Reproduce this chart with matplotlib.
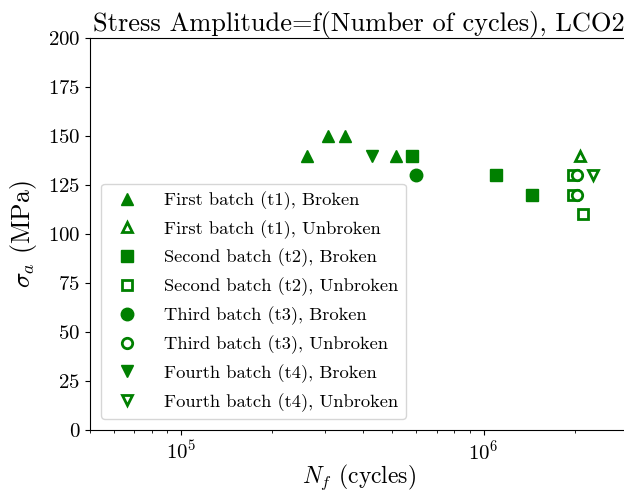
import matplotlib
matplotlib.use("Agg")
import matplotlib.pyplot as plt

plt.rcParams['font.family'] = 'serif'
plt.rcParams['font.serif'] = ['cmr10']
plt.rcParams['mathtext.fontset'] = 'cm'
plt.rcParams['axes.formatter.use_mathtext'] = True
plt.rcParams['axes.unicode_minus'] = False

# cycles to failure / runout and stress amplitude per batch
t1_broken_N = [2.61e5, 3.07e5, 3.49e5, 5.12e5]
t1_broken_S = [140, 150, 150, 140]
t1_unbroken_N = [2.08e6]
t1_unbroken_S = [140]

t2_broken_N = [5.82e5, 1.10e6, 1.45e6]
t2_broken_S = [140, 130, 120]
t2_unbroken_N = [1.97e6, 1.97e6, 2.13e6]
t2_unbroken_S = [130, 120, 110]

t3_broken_N = [5.96e5]
t3_broken_S = [130]
t3_unbroken_N = [2.04e6, 2.04e6]
t3_unbroken_S = [130, 120]

t4_broken_N = [4.28e5]
t4_broken_S = [140]
t4_unbroken_N = [2.30e6]
t4_unbroken_S = [130]

col = 'green'
ms = 9
ms_open = 7.5

fig = plt.figure(figsize=(6.24, 4.91), dpi=100)
ax = fig.add_axes([0.1442, 0.1242, 0.862, 0.7984])

ax.plot(t1_broken_N, t1_broken_S, '^', color=col, ms=ms, ls='none', label='First batch (t1), Broken')
ax.plot(t1_unbroken_N, t1_unbroken_S, '^', mfc='white', mec=col, mew=2, ms=ms_open, ls='none', label='First batch (t1), Unbroken')
ax.plot(t2_broken_N, t2_broken_S, 's', color=col, ms=ms, ls='none', label='Second batch (t2), Broken')
ax.plot(t2_unbroken_N, t2_unbroken_S, 's', mfc='white', mec=col, mew=2, ms=ms_open, ls='none', label='Second batch (t2), Unbroken')
ax.plot(t3_broken_N, t3_broken_S, 'o', color=col, ms=ms, ls='none', label='Third batch (t3), Broken')
ax.plot(t3_unbroken_N, t3_unbroken_S, 'o', mfc='white', mec=col, mew=2, ms=ms_open, ls='none', label='Third batch (t3), Unbroken')
ax.plot(t4_broken_N, t4_broken_S, 'v', color=col, ms=ms, ls='none', label='Fourth batch (t4), Broken')
ax.plot(t4_unbroken_N, t4_unbroken_S, 'v', mfc='white', mec=col, mew=2, ms=ms_open, ls='none', label='Fourth batch (t4), Unbroken')

ax.set_xscale('log')
ax.set_xlim(5e4, 3e6)
ax.set_ylim(0, 200)
ax.tick_params(labelsize=15)
ax.set_xlabel(r'$N_f$ (cycles)', fontsize=17, labelpad=-1)
ax.set_ylabel(r'$\sigma_a$ (MPa)', fontsize=18.5, labelpad=6)
ax.set_title('Stress Amplitude=f(Number of cycles), LCO2', fontsize=19, pad=4)
ax.legend(loc='lower left', fontsize=13.3, labelspacing=0.55, handletextpad=1.0,
          borderaxespad=0.6)

fig.savefig('out.png', dpi=100)
